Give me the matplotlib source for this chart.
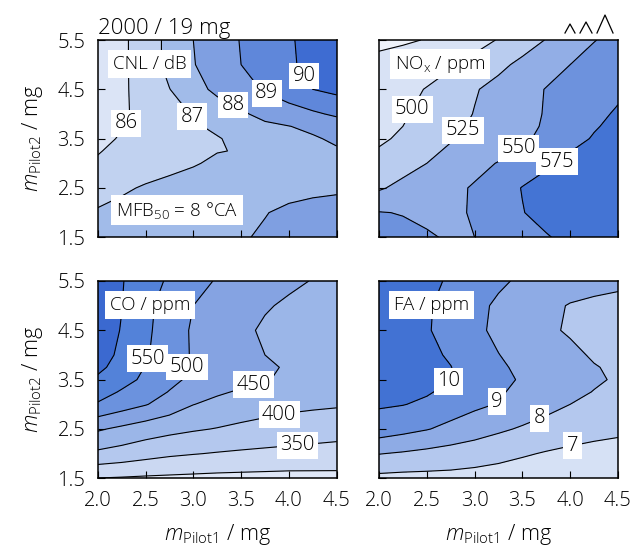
import numpy as np
import matplotlib
matplotlib.use("Agg")
import matplotlib.pyplot as plt
from matplotlib.lines import Line2D

plt.rcParams['font.family'] = ['Open Sans', 'DejaVu Sans']
plt.rcParams['font.weight'] = 'light'
plt.rcParams['axes.labelweight'] = 'light'
plt.rcParams['axes.titleweight'] = 'light'
plt.rcParams['mathtext.fontset'] = 'custom'
plt.rcParams['mathtext.rm'] = 'Open Sans:light'
plt.rcParams['mathtext.it'] = 'Open Sans:italic:light'

# ---- data ----
m_pilot1 = [2.0, 2.25, 2.5, 2.75, 3.0, 3.25, 3.5, 3.75, 4.0, 4.25, 4.5]
m_pilot2 = [5.5, 5.0, 4.5, 4.0, 3.75, 3.5, 3.25, 3.0, 2.5, 2.0, 1.5]   # rows, top to bottom

cnl = [
    [85.5, 85.8, 86.5, 87.25, 88.0, 88.5, 89.05, 89.5, 89.9, 90.3, 90.6],
    [85.6, 85.8, 86.5, 87.25, 87.95, 88.5, 89.0, 89.45, 89.9, 90.2, 90.4],
    [85.6, 85.85, 86.35, 86.98, 87.6, 88.25, 88.6, 89.1, 89.5, 90.0, 90.25],
    [85.6, 85.85, 86.3, 86.7, 87.05, 87.4, 87.85, 88.3, 88.6, 88.85, 89.15],
    [85.65, 85.95, 86.35, 86.65, 86.9, 87.15, 87.5, 87.8, 87.98, 88.2, 88.5],
    [85.7, 86.1, 86.4, 86.6, 86.8, 86.95, 87.2, 87.45, 87.7, 87.9, 88.15],
    [85.95, 86.2, 86.45, 86.65, 86.85, 86.97, 87.04, 87.3, 87.55, 87.7, 87.9],
    [86.1, 86.3, 86.5, 86.7, 86.93, 87.15, 87.3, 87.4, 87.5, 87.6, 87.7],
    [86.6, 86.85, 87.1, 87.3, 87.4, 87.5, 87.55, 87.65, 87.75, 87.8, 87.85],
    [87.1, 87.3, 87.45, 87.55, 87.65, 87.75, 87.85, 87.97, 88.15, 88.3, 88.4],
    [87.3, 87.45, 87.55, 87.65, 87.75, 87.85, 87.93, 88.1, 88.3, 88.5, 88.6],
]
nox = [
    [470, 472, 476, 485, 493, 501, 513, 526, 538, 549, 558],
    [481, 486, 491, 497, 506, 519, 531, 540, 550, 560, 568],
    [488, 494, 501, 512, 523, 533, 541, 551, 558, 564, 570],
    [493, 498, 505, 515, 526, 534, 541, 552, 561, 569, 578],
    [494, 500, 509, 519, 528.5, 536, 543, 553, 564, 573, 581],
    [496, 504, 513, 523, 531, 538, 546, 556, 567, 577, 584],
    [502, 510, 519, 529, 538, 544, 553, 563, 574.5, 583, 588],
    [507, 515, 525, 535, 544, 551, 560, 571, 582, 588, 592],
    [522, 532, 539, 545, 552, 563, 576, 585, 590, 593, 595],
    [551, 549, 546, 546, 552, 562, 574, 584, 590, 594, 596],
    [560, 556, 552, 548, 550, 558, 566, 573, 582, 588, 592],
]
co = [
    [630, 603, 572, 543, 518, 496, 484, 472, 460, 448, 440],
    [625, 601, 562, 530, 500, 484, 470, 455, 442, 435, 430],
    [622, 598, 560, 525, 494, 480, 462, 442, 436, 432, 430],
    [615, 593, 555, 525, 495, 478, 465, 450, 440, 433, 430],
    [610, 583, 548, 520, 493, 477, 464, 456, 446, 437, 431],
    [593, 568, 540, 512, 490, 475, 463, 452, 444, 437, 432],
    [572, 545, 522, 498, 472, 456, 445, 436, 428, 422, 418],
    [545, 523, 503, 478, 451, 438, 428, 420, 412, 408, 405],
    [456, 440, 425, 414, 405, 398, 390, 383, 378, 374, 370],
    [390, 380, 368, 358, 352, 347, 343, 340, 337, 334, 331],
    [299, 296, 293, 291, 289, 287, 286, 285, 284, 285, 286],
]
fa = [
    [10.6, 10.45, 10.2, 9.9, 9.55, 9.15, 8.85, 8.6, 8.4, 8.25, 8.15],
    [10.6, 10.4, 10.1, 9.7, 9.25, 8.85, 8.5, 8.2, 7.95, 7.85, 7.8],
    [10.6, 10.35, 10.08, 9.65, 9.2, 8.8, 8.45, 8.15, 7.9, 7.75, 7.7],
    [10.55, 10.4, 10.2, 9.9, 9.45, 9.02, 8.7, 8.45, 8.2, 7.9, 7.75],
    [10.5, 10.35, 10.2, 10.02, 9.58, 9.15, 8.8, 8.55, 8.3, 8.05, 7.85],
    [10.45, 10.3, 10.15, 10.0, 9.6, 9.25, 8.9, 8.6, 8.35, 8.12, 7.9],
    [10.3, 10.2, 10.08, 9.8, 9.45, 9.1, 8.78, 8.5, 8.22, 7.97, 7.8],
    [10.1, 10.03, 9.85, 9.5, 9.2, 8.95, 8.6, 8.3, 8.0, 7.8, 7.65],
    [9.55, 9.3, 9.05, 8.75, 8.45, 8.15, 7.9, 7.65, 7.45, 7.3, 7.2],
    [8.03, 7.9, 7.75, 7.6, 7.45, 7.3, 7.1, 6.93, 6.8, 6.7, 6.62],
    [6.75, 6.7, 6.7, 6.7, 6.65, 6.55, 6.45, 6.35, 6.3, 6.25, 6.2],
]

cnl_levels = [86, 87, 88, 89, 90]
nox_levels = [475, 500, 525, 550, 575]
co_levels = [300, 350, 400, 450, 500, 550, 600]
fa_levels = [7, 8, 9, 10]

cnl_labeled = [86, 87, 88, 89, 90]
nox_labeled = [500, 525, 550, 575]
co_labeled = [350, 400, 450, 500, 550]
fa_labeled = [7, 8, 9, 10]

x_ticks = [2.0, 2.5, 3.0, 3.5, 4.0, 4.5]
y_ticks = [1.5, 2.5, 3.5, 4.5, 5.5]

title_text = "2000 / 19 mg"
xlabel = r"$m_\mathrm{Pilot1}$ / mg"
ylabel = r"$m_\mathrm{Pilot2}$ / mg"

# ---- styles ----
cnl_colors = ['#dbe4f6', '#c1d2f0', '#a1bbe9', '#7f9fe1', '#5f87da', '#3e6cd2']
nox_colors = ['#eef2fa', '#d8e2f5', '#b9ccef', '#92aee6', '#6d92dd', '#4474d4']
co_colors = ['#dfe7f7', '#cbd8f2', '#b4c8ee', '#9bb6e8', '#85a3e2', '#6b92de', '#5382d9', '#3b69d0']
fa_colors = ['#d6e1f5', '#b4c8ee', '#8eabe5', '#6990dd', '#4272d3']

panels = [
    dict(z=cnl, levels=cnl_levels, labeled=cnl_labeled, colors=cnl_colors,
         name="CNL / dB", namepos=(0.064, 0.878),
         lpos=[(2.30, 3.81), (2.97, 3.91), (3.40, 4.11), (3.75, 4.35), (4.12, 4.72)]),
    dict(z=nox, levels=nox_levels, labeled=nox_labeled, colors=nox_colors,
         name=r"NO$_\mathrm{x}$ / ppm", namepos=(0.067, 0.878),
         lpos=[(2.36, 4.08), (2.90, 3.64), (3.46, 3.30), (3.86, 3.03)]),
    dict(z=co, levels=co_levels, labeled=co_labeled, colors=co_colors,
         name="CO / ppm", namepos=(0.05, 0.878),
         lpos=[(2.54, 3.91), (2.98, 3.74), (3.63, 3.40), (3.90, 2.77), (4.09, 2.14)]),
    dict(z=fa, levels=fa_levels, labeled=fa_labeled, colors=fa_colors,
         name="FA / ppm", namepos=(0.063, 0.878),
         lpos=[(2.74, 3.43), (3.23, 3.06), (3.69, 2.66), (4.02, 2.19)]),
]

W, H = 632, 555
fig = plt.figure(figsize=(W / 100, H / 100), dpi=100)

ax_rects = [
    (97.7, 40, 336.7, 237.3),
    (379, 40, 618, 237.3),
    (97.7, 281, 336.7, 478.3),
    (379, 281, 618, 478.3),
]

X, Y = np.meshgrid(np.array(m_pilot1), np.array(m_pilot2)[::-1])
FS = 14.5
FS_NAME = 13.5

for i, (p, r) in enumerate(zip(panels, ax_rects)):
    l, t, rr, b = r
    ax = fig.add_axes([l / W, 1 - b / H, (rr - l) / W, (b - t) / H])
    Z = np.array(p['z'], dtype=float)[::-1]
    lv = p['levels']
    fill_levels = [Z.min() - 1e3] + list(lv) + [Z.max() + 1e3]
    ax.contourf(X, Y, Z, levels=fill_levels, colors=p['colors'])
    ax.contour(X, Y, Z, levels=lv, colors='black', linewidths=0.8)
    cs_lab = ax.contour(X, Y, Z, levels=p['labeled'], colors='black', linewidths=0)
    ax.clabel(cs_lab, manual=p['lpos'], inline=False, fmt='%g',
              fontsize=FS, colors='black')
    for tx in cs_lab.labelTexts:
        tx.set_rotation(0)
        tx.set_fontweight('light')
        tx.set_bbox(dict(facecolor='white', edgecolor='none', pad=2.5))
        tx.set_zorder(5)
    ax.text(p['namepos'][0], p['namepos'][1], p['name'], transform=ax.transAxes,
            fontsize=FS_NAME, ha='left', va='center', zorder=6,
            bbox=dict(facecolor='white', edgecolor='none', pad=3.5))
    ax.set_xlim(2.0, 4.5)
    ax.set_ylim(1.5, 5.5)
    ax.set_xticks(x_ticks)
    ax.set_yticks(y_ticks)
    ax.tick_params(direction='in', length=5, width=0.8, top=False, right=False,
                   labelsize=FS, pad=9)
    for s in ax.spines.values():
        s.set_linewidth(1.1)
    if i < 2:
        ax.tick_params(labelbottom=False)
    else:
        ax.set_xticklabels([f"{v:.1f}" for v in x_ticks])
        ax.set_xlabel(xlabel, fontsize=15.5, labelpad=8)
    if i % 2 == 1:
        ax.tick_params(labelleft=False)
    else:
        ax.set_yticklabels([f"{v:.1f}" for v in y_ticks])
        ax.set_ylabel(ylabel, fontsize=15.5, labelpad=9)
    if i == 0:
        ax.set_title(title_text, loc='left', fontsize=16, pad=4)
        ax.text(0.077, 0.138, r"MFB$_{50}$ = 8 °CA", transform=ax.transAxes,
                fontsize=FS_NAME, ha='left', va='center', zorder=6,
                bbox=dict(facecolor='white', edgecolor='none', pad=3.5))

# small logo-like carets above top-right panel
def caret(x0, x1, ytop, ybot):
    fig.add_artist(Line2D([x0 / W, (x0 + x1) / 2 / W, x1 / W],
                          [1 - ybot / H, 1 - ytop / H, 1 - ybot / H],
                          color='black', lw=0.9))
caret(565, 575, 24, 33)
caret(580, 592, 22, 33)
caret(597, 613, 15, 33)

fig.savefig("out.png", dpi=100)
